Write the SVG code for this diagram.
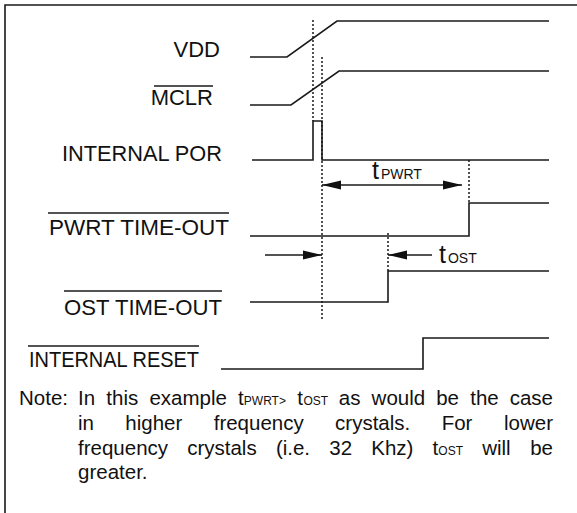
<svg xmlns="http://www.w3.org/2000/svg" width="577" height="513" viewBox="0 0 577 513">
<style>
.w{fill:none;stroke:#1a1a1a;stroke-width:1.6}
.d{fill:none;stroke:#1a1a1a;stroke-width:1.5;stroke-dasharray:2 2}
.ov{stroke:#1a1a1a;stroke-width:1.4}
.lbl{font-family:"Liberation Sans",Arial,sans-serif;font-size:22px;fill:#111;text-anchor:end}
.nt{font-family:"Liberation Sans",Arial,sans-serif;font-size:20.5px;fill:#111}
.big{font-family:"Liberation Sans",Arial,sans-serif;font-size:25px;fill:#111}
</style>
<defs>
<marker id="ah" markerWidth="20" markerHeight="10" refX="19" refY="5" orient="auto-start-reverse" markerUnits="userSpaceOnUse">
<path d="M0,0.6 L19,5 L0,9.4 Z" fill="#111"/>
</marker>
</defs>
<rect width="577" height="513" fill="#fff"/>
<g id="frame" class="w">
<path d="M5,513 L5,5 L577,5"/>
</g>
<g id="vdd">
<text class="lbl" x="220" y="57" font-size="20">VDD</text>
<path class="w" d="M250,57 L287,57 L337,21 L549,21"/>
</g>
<g id="mclr">
<line class="ov" x1="154" y1="86" x2="213" y2="86"/>
<text class="lbl" x="213" y="105" font-size="21">MCLR</text>
<path class="w" d="M250,105 L291,105 L339,71 L549,71"/>
</g>
<g id="por">
<text class="lbl" x="222" y="161" textLength="160" lengthAdjust="spacingAndGlyphs">INTERNAL POR</text>
<path class="w" d="M252,160 L313,160 L313,121 L322,121 L322,160 L549,160"/>
</g>
<g id="pwrt">
<line class="ov" x1="48" y1="213" x2="229" y2="213"/>
<text class="lbl" x="229" y="235" textLength="180" lengthAdjust="spacingAndGlyphs">PWRT TIME-OUT</text>
<path class="w" d="M250,236 L469,236 L469,203 L549,203"/>
</g>
<g id="ost">
<line class="ov" x1="64" y1="291" x2="222" y2="291"/>
<text class="lbl" x="222" y="315" textLength="158" lengthAdjust="spacingAndGlyphs">OST TIME-OUT</text>
<path class="w" d="M250,302 L388,302 L388,271 L549,271"/>
</g>
<g id="reset">
<line class="ov" x1="28" y1="346" x2="199" y2="346"/>
<text class="lbl" x="199" y="367" font-size="21" textLength="170" lengthAdjust="spacingAndGlyphs">INTERNAL RESET</text>
<path class="w" d="M221,369 L423,369 L423,338 L549,338"/>
</g>
<g id="connectors">
<line class="d" x1="313" y1="20" x2="313" y2="121"/>
<line class="d" x1="322" y1="57" x2="322" y2="320"/>
<line class="d" x1="469" y1="160" x2="469" y2="203"/>
<line class="d" x1="388" y1="233" x2="388" y2="271"/>
<line class="w" x1="322" y1="185" x2="462" y2="185" marker-start="url(#ah)" marker-end="url(#ah)"/>
<line class="w" x1="265" y1="255" x2="322" y2="255" marker-end="url(#ah)"/>
<line class="w" x1="432" y1="255" x2="388" y2="255" marker-end="url(#ah)"/>
</g>
<g id="labels">
<text class="big" x="372" y="179">t<tspan font-size="14" dx="2">PWRT</tspan></text>
<text class="big" x="439" y="263">t<tspan font-size="14" dx="2">OST</tspan></text>
</g>
<g id="note" class="nt">
<text x="19" y="405">Note:</text>
<text y="405"><tspan x="78">In</tspan><tspan x="106.3">this</tspan><tspan x="149.4">example</tspan><tspan x="238.1">t<tspan font-size="12">PWRT&gt;</tspan></tspan><tspan x="297.2">t</tspan><tspan x="303.5" font-size="12">OST</tspan><tspan x="338.8">as</tspan><tspan x="371.6">would</tspan><tspan x="436.2">be</tspan><tspan x="470.2">the</tspan><tspan x="553" text-anchor="end">case</tspan></text>
<text y="430"><tspan x="78">in</tspan><tspan x="125.3">higher</tspan><tspan x="213.7">frequency</tspan><tspan x="335.1">crystals.</tspan><tspan x="441.7">For</tspan><tspan x="553" text-anchor="end">lower</tspan></text>
<text y="455"><tspan x="78">frequency</tspan><tspan x="187.2">crystals</tspan><tspan x="275.9">(i.e.</tspan><tspan x="329.3">32</tspan><tspan x="371.3">Khz)</tspan><tspan x="432.6">t<tspan font-size="12">OST</tspan></tspan><tspan x="482.2">will</tspan><tspan x="553" text-anchor="end">be</tspan></text>
<text x="78" y="479">greater.</text>
</g>
</svg>
